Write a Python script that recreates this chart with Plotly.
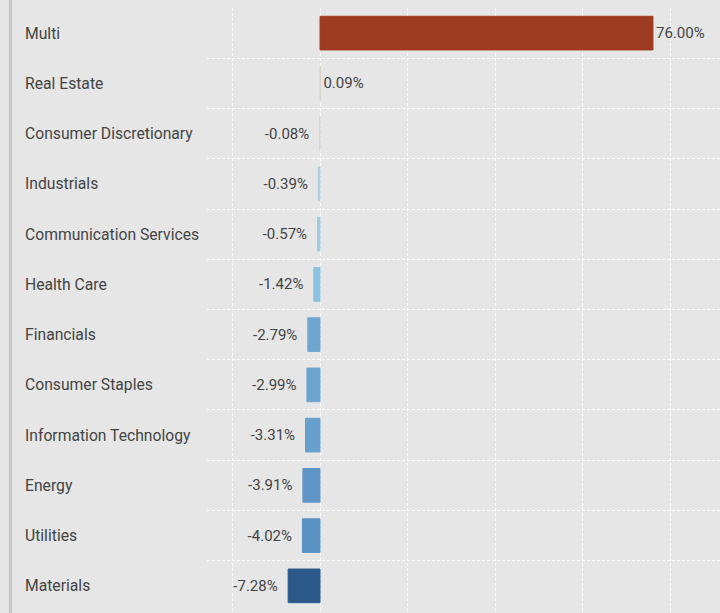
import plotly.graph_objects as go

categories = ["Multi", "Real Estate", "Consumer Discretionary", "Industrials",
              "Communication Services", "Health Care", "Financials",
              "Consumer Staples", "Information Technology", "Energy",
              "Utilities", "Materials"]
values = [76.00, 0.09, -0.08, -0.39, -0.57, -1.42, -2.79, -2.99, -3.31, -3.91, -4.02, -7.28]
colors = ["#9e3c22", "#d6d3c9", "#d3d3c9", "#abd1e3", "#9fcce3", "#8cc3e1",
          "#6fa6d0", "#6ca3cf", "#67a0cd", "#5e95c6", "#5b92c4", "#2b5a8a"]
labels = [f"{v:.2f}%" + ("\u00a0\u00a0" if v < 0 else "") for v in values]

W, H = 720, 613
ML, MR, MT, MB = 207, 0, 8, 0
pw = W - ML - MR

fig = go.Figure()
fig.add_trace(go.Bar(
    x=values, y=categories, orientation="h",
    marker=dict(color=colors, line=dict(color=colors, width=1)),
    width=0.67,
    text=labels, textposition="outside",
    textfont=dict(family="Roboto", size=15, color="#444444"),
    cliponaxis=False, hoverinfo="skip",
))

for c in categories:
    fig.add_annotation(x=(23 - ML) / pw, xref="paper", y=c, yref="y",
                       text=c, showarrow=False, xanchor="left", yanchor="middle",
                       font=dict(family="Roboto", size=15.7, color="#444444"))

fig.add_shape(type="line", xref="paper", yref="paper",
              x0=(10.5 - ML) / pw, x1=(10.5 - ML) / pw, y0=-0.02, y1=1.02,
              line=dict(color="#c6c6c6", width=3))

fig.update_layout(
    width=W, height=H,
    margin=dict(l=ML, r=MR, t=MT, b=MB, pad=0),
    paper_bgcolor="#e6e6e6", plot_bgcolor="#e6e6e6",
    showlegend=False,
    font=dict(family="Roboto", color="#444444"),
    xaxis=dict(range=[-25.8, 91.3], dtick=20, tick0=0, showticklabels=False,
               showgrid=True, gridcolor="#ffffff", gridwidth=1, griddash="3px,2px",
               zeroline=False, showline=False, fixedrange=True),
    yaxis=dict(type="category", categoryorder="array", categoryarray=categories,
               autorange=False, range=[11.54, -0.5], tickson="boundaries",
               showticklabels=False, ticks="",
               showgrid=True, gridcolor="#ffffff", gridwidth=1, griddash="3px,2px",
               zeroline=False, showline=False, fixedrange=True),
)

fig.write_html("out.html", config={"displayModeBar": False},
               post_script="document.body.style.margin='0';document.body.style.overflow='hidden';")
